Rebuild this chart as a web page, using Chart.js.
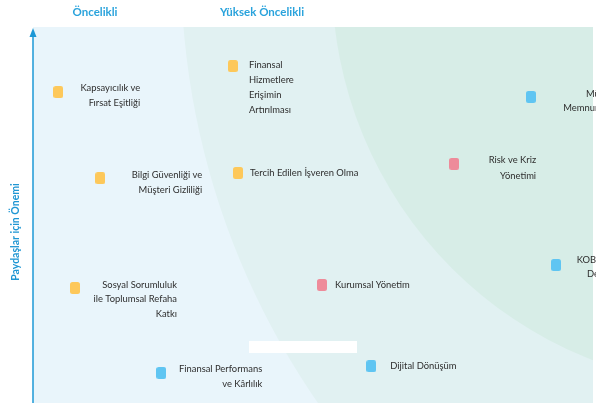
<!DOCTYPE html>
<html>
<head>
<meta charset="utf-8">
<script src="https://cdn.jsdelivr.net/npm/chart.js@4/dist/chart.umd.min.js"></script>
<style>
  html, body { margin: 0; padding: 0; background: #fff; }
  #wrap { width: 596px; height: 403px; position: relative; }
</style>
</head>
<body>
<div id="wrap"><canvas id="matrix" width="596" height="403"></canvas></div>
<script>
// Materiality topics: x = importance for the bank, y = importance for stakeholders (0–10)
const socialTopics = ["Kapsayıcılık ve\nFırsat Eşitliği", "Bilgi Güvenliği ve\nMüşteri Gizliliği", "Sosyal Sorumluluk\nile Toplumsal Refaha\nKatkı", "Finansal\nHizmetlere\nErişimin\nArtırılması", "Tercih Edilen İşveren Olma"];
const socialX = [0.45, 1.20, 0.75, 3.57, 3.66];
const socialY = [8.27, 5.98, 3.06, 8.96, 6.12];

const governanceTopics = ["Kurumsal Yönetim", "Risk ve Kriz\nYönetimi"];
const governanceX = [5.16, 7.52];
const governanceY = [3.14, 6.36];

const economicTopics = ["Finansal Performans\nve Kârlılık", "Dijital Dönüşüm", "Müşteri\nMemnuniyeti", "KOBİ'lere\nDestek"];
const economicX = [2.29, 6.04, 8.89, 9.34];
const economicY = [0.80, 0.98, 8.14, 3.67];

const bandLabels = ["Öncelikli", "Yüksek Öncelikli"];
const yTitle = "Paydaşlar için Önemi";

// Label placement per topic: [align, dx from marker, dy of first line, line height]
const socialLabelLayout = [["right", 82, -4, 15], ["right", 102, -3, 15], ["right", 102, -3, 14.5], ["left", 16, -1, 15], ["left", 12, 0, 15]];
const governanceLabelLayout = [["left", 13, 0, 15], ["right", 82, -4, 16]];
const economicLabelLayout = [["right", 101, -4, 15], ["left", 19, 0, 15], ["right", 87, -3, 14], ["right", 60, -5, 14]];

const COLORS = { social: "#fdc85a", governance: "#ee8b9a", economic: "#5fc5f2" };

function marker(color) {
  const c = document.createElement("canvas");
  c.width = 10; c.height = 12;
  const g = c.getContext("2d");
  g.fillStyle = color;
  g.beginPath();
  g.roundRect(0, 0, 10, 12, 2.5);
  g.fill();
  return c;
}

function points(xs, ys) { return xs.map((x, i) => ({ x: x, y: ys[i] })); }

const backdrop = {
  id: "backdrop",
  beforeDraw(chart) {
    const { ctx, chartArea: a, width, height } = chart;
    ctx.save();
    ctx.fillStyle = "#ffffff";
    ctx.fillRect(0, 0, width, height);
    ctx.beginPath();
    ctx.rect(a.left, a.top, a.right - a.left, a.bottom - a.top);
    ctx.clip();
    ctx.fillStyle = "#e9f5fb";
    ctx.fillRect(a.left, a.top, a.right - a.left, a.bottom - a.top);
    ctx.fillStyle = "#e1f1f2";
    ctx.beginPath();
    ctx.arc(a.left + 917, a.top - 62, 769, 0, Math.PI * 2);
    ctx.fill();
    ctx.fillStyle = "#d7ede7";
    ctx.beginPath();
    ctx.arc(a.left + 708, a.top - 48, 409, 0, Math.PI * 2);
    ctx.fill();
    ctx.restore();
  },
  beforeDatasetsDraw(chart) {
    const { ctx } = chart;
    ctx.save();
    ctx.fillStyle = "#ffffff";
    ctx.fillRect(249, 341, 108, 12);
    ctx.restore();
  }
};

const topicLabels = {
  id: "topicLabels",
  afterDatasetsDraw(chart) {
    const { ctx } = chart;
    ctx.save();
    ctx.font = "9.4px Lato";
    ctx.fillStyle = "#2e2e2e";
    ctx.textBaseline = "middle";
    chart.data.datasets.forEach((ds, di) => {
      const meta = chart.getDatasetMeta(di);
      meta.data.forEach((pt, i) => {
        const [align, dx, dy, lh] = ds.labelLayout[i];
        ctx.textAlign = align;
        ds.topics[i].split("\n").forEach((line, li) => {
          ctx.fillText(line, pt.x + dx, pt.y + dy + li * lh);
        });
      });
    });
    ctx.restore();
  },
  afterDraw(chart) {
    const { ctx, chartArea: a } = chart;
    ctx.save();
    // vertical axis with arrow
    ctx.strokeStyle = "#1d98d6";
    ctx.lineWidth = 1.5;
    ctx.beginPath();
    ctx.moveTo(a.left, 36);
    ctx.lineTo(a.left, a.bottom);
    ctx.stroke();
    ctx.fillStyle = "#1d98d6";
    ctx.beginPath();
    ctx.moveTo(a.left, 28);
    ctx.lineTo(a.left - 3.5, 37);
    ctx.lineTo(a.left + 3.5, 37);
    ctx.closePath();
    ctx.fill();
    // band headings
    ctx.fillStyle = "#2aa3dc";
    ctx.font = "bold 11.5px Lato";
    ctx.textAlign = "center";
    ctx.textBaseline = "middle";
    ctx.fillText(bandLabels[0], 95, 12);
    ctx.fillText(bandLabels[1], 262, 12);
    // axis title
    ctx.translate(16, 232);
    ctx.rotate(-Math.PI / 2);
    ctx.fillStyle = "#1f96d3";
    ctx.font = "bold 10.5px Lato";
    ctx.fillText(yTitle, 0, 0);
    ctx.restore();
  }
};

new Chart(document.getElementById("matrix"), {
  type: "scatter",
  data: {
    datasets: [
      { label: "Sosyal", data: points(socialX, socialY), topics: socialTopics, labelLayout: socialLabelLayout, pointStyle: marker(COLORS.social), clip: false },
      { label: "Yönetişim", data: points(governanceX, governanceY), topics: governanceTopics, labelLayout: governanceLabelLayout, pointStyle: marker(COLORS.governance), clip: false },
      { label: "Ekonomik", data: points(economicX, economicY), topics: economicTopics, labelLayout: economicLabelLayout, pointStyle: marker(COLORS.economic), clip: false }
    ]
  },
  options: {
    responsive: false,
    animation: false,
    devicePixelRatio: 1,
    layout: { autoPadding: false, padding: { left: 33, top: 27, right: 3, bottom: 0 } },
    scales: {
      x: { type: "linear", min: 0, max: 10, display: false },
      y: { type: "linear", min: 0, max: 10, display: false }
    },
    plugins: { legend: { display: false }, tooltip: { enabled: false } }
  },
  plugins: [backdrop, topicLabels]
});
</script>
</body>
</html>
